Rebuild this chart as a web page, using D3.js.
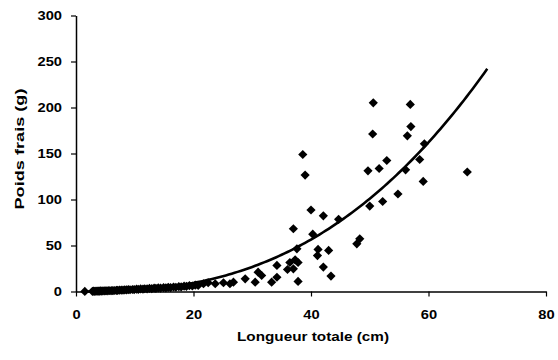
<!DOCTYPE html>
<html><head><meta charset="utf-8">
<script src="https://cdn.jsdelivr.net/npm/d3@7"></script>
<style>
body{margin:0;background:#fff;}
svg{display:block;}
text{font-family:"Liberation Sans",Arial,sans-serif;font-weight:bold;fill:#000;}
</style></head>
<body>
<svg id="chart" width="558" height="360"></svg>
<script>
// Data: total length (cm) and fresh weight (g)
const lengths = [1.5, 2.8, 3.0, 3.2, 3.4, 3.6, 3.8, 4.0, 4.2, 4.4, 4.6, 4.9, 5.1, 5.3, 5.6, 5.8, 6.1, 6.3, 6.6, 6.9, 7.1, 7.4, 7.7, 8.0, 8.3, 8.6, 8.9, 9.2, 9.6, 9.9, 10.3, 10.6, 11.0, 11.4, 11.7, 12.1, 12.5, 12.9, 13.3, 13.6, 14.0, 14.4, 14.9, 15.3, 15.7, 16.1, 16.6, 17.0, 17.5, 17.9, 18.4, 18.8, 19.3, 19.8, 20.3, 20.8,
  21.7, 22.5, 23.7, 25.1, 26.2, 26.8, 28.8, 30.5, 31.0, 31.6, 33.3, 34.2, 34.2, 36.0, 36.4, 37.0, 37.0, 37.6, 37.8, 37.8, 38.6, 39.0, 40.0, 40.3, 41.1, 41.2, 42.1, 42.1, 43.0, 43.4, 44.7, 47.8, 48.3, 49.7, 50.0, 50.5, 50.6, 51.6, 52.2, 52.9, 54.8, 56.1, 56.4, 56.9, 57.0, 58.5, 59.1, 59.3, 66.6, 37.3];
const weights = [0.1, 0.2, 0.3, 0.2, 0.4, 0.3, 0.5, 0.4, 0.6, 0.5, 0.7, 0.6, 0.8, 0.7, 0.9, 0.8, 1.0, 0.9, 1.1, 1.3, 1.2, 1.4, 1.6, 1.5, 1.8, 1.7, 2.0, 1.9, 2.2, 2.1, 2.5, 2.3, 2.8, 2.6, 3.0, 2.9, 3.3, 3.1, 3.6, 3.4, 3.9, 3.7, 4.2, 4.0, 4.5, 4.3, 4.9, 4.6, 5.3, 5.0, 5.8, 5.5, 6.3, 6.0, 6.9, 6.5,
  8.4, 9.5, 8.4, 9.5, 8.4, 10.1, 13.8, 10.1, 21.0, 17.4, 10.1, 28.3, 15.5, 23.9, 31.5, 68.2, 24.7, 46.4, 31.5, 10.9, 148.9, 126.6, 88.6, 62.3, 39.1, 45.7, 82.3, 26.6, 44.6, 16.8, 78.5, 51.8, 57.3, 131.2, 92.9, 171.2, 205.1, 133.7, 97.8, 142.4, 106.0, 132.3, 169.2, 203.3, 179.3, 143.5, 119.6, 160.5, 129.9, 34.4];
// Power trendline W = a * L^b
const trendA = 0.00386, trendB = 2.6;
const trendRange = [1, 70];
const xTicks = [0, 20, 40, 60, 80];
const yTicks = [0, 50, 100, 150, 200, 250, 300];
const xTitle = "Longueur totale (cm)";
const yTitle = "Poids frais (g)";

const svg = d3.select("#chart");
const x = d3.scaleLinear().domain([0, 80]).range([76, 546]);
const y = d3.scaleLinear().domain([0, 300]).range([291.5, 15.5]);

// trendline
const tl = d3.range(trendRange[0], trendRange[1] + 0.001, 0.5).map(L => [L, trendA * Math.pow(L, trendB)]);
svg.append("path").datum(tl)
  .attr("d", d3.line().x(d => x(d[0])).y(d => y(d[1])))
  .attr("fill", "none").attr("stroke", "#000").attr("stroke-width", 2.6);

// points
const pts = lengths.map((L, i) => [L, weights[i]]);
svg.append("g").selectAll("path").data(pts).join("path")
  .attr("transform", d => `translate(${x(d[0])},${y(d[1])})`)
  .attr("d", "M0,-4.6L4.6,0L0,4.6L-4.6,0Z")
  .attr("fill", "#000");

// axes
const xAxis = svg.append("g").attr("transform", `translate(0,${y(0)})`)
  .call(d3.axisBottom(x).tickValues(xTicks).tickSize(5).tickSizeOuter(0).tickPadding(13));
const yAxis = svg.append("g").attr("transform", `translate(${x(0)},0)`)
  .call(d3.axisLeft(y).tickValues(yTicks).tickSize(5).tickSizeOuter(0).tickPadding(9));
[xAxis, yAxis].forEach(g => {
  g.select(".domain").attr("stroke", "#000").attr("stroke-width", 1.5);
  g.selectAll(".tick line").attr("stroke", "#000").attr("stroke-width", 1.2);
  g.selectAll(".tick text").attr("font-size", 13).attr("font-family", "Liberation Sans, Arial, sans-serif").attr("font-weight", "bold")
    .each(function() {
      const w = this.getComputedTextLength();
      d3.select(this).attr("textLength", w * 1.13).attr("lengthAdjust", "spacingAndGlyphs");
    });
});

svg.append("text").attr("x", 313).attr("y", 341).attr("text-anchor", "middle")
  .attr("font-size", 13.5).attr("textLength", 152).attr("lengthAdjust", "spacingAndGlyphs").text(xTitle);
svg.append("text").attr("transform", "translate(24,149) rotate(-90)").attr("text-anchor", "middle")
  .attr("font-size", 13.5).attr("textLength", 121).attr("lengthAdjust", "spacingAndGlyphs").text(yTitle);
</script>
</body></html>
